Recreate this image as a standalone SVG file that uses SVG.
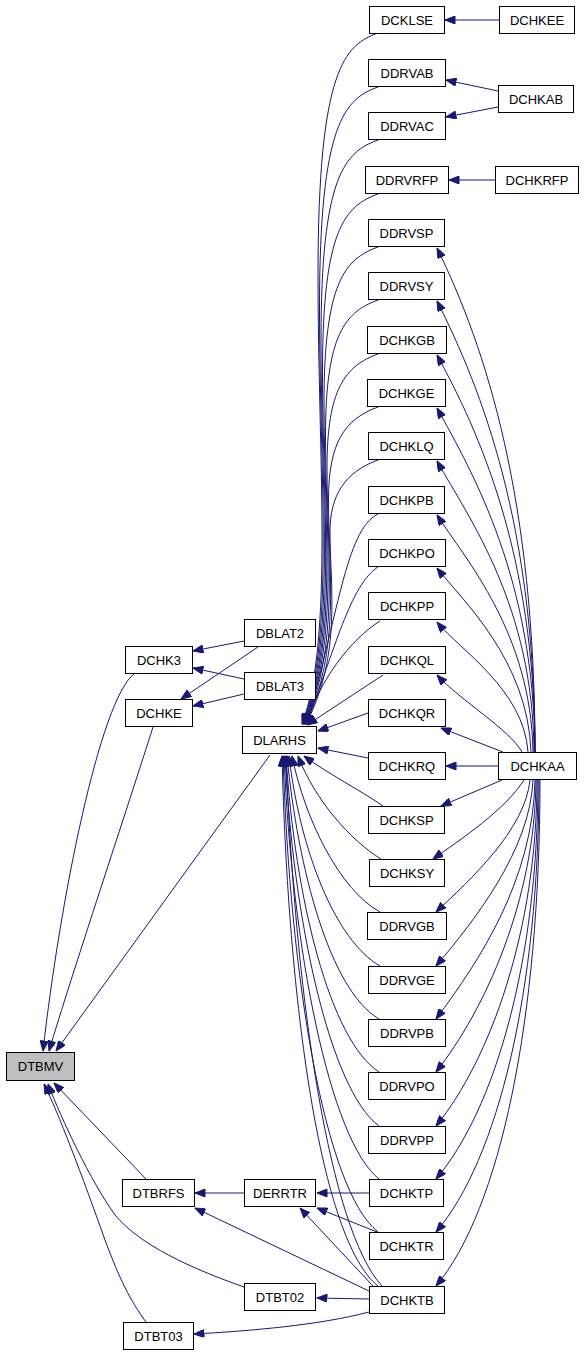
<svg xmlns="http://www.w3.org/2000/svg" width="584" height="1356" viewBox="0 0 584 1356">
<style>
.n rect{fill:#fff;stroke:#000;stroke-width:1}
.n.root rect{fill:#bfbfbf}
.n text{font-family:"Liberation Sans",Arial,sans-serif;font-size:13px;text-anchor:middle;fill:#000}
.e path{fill:none;stroke:#191970;stroke-width:1;marker-end:url(#ah)}
</style>
<defs>
<marker id="ah" viewBox="0 0 10 8" refX="10" refY="4" markerWidth="11" markerHeight="8" markerUnits="userSpaceOnUse" orient="auto">
<path d="M0,0 L10,4 L0,8 z" fill="#191970" stroke="#191970"/>
</marker>
</defs>
<rect width="584" height="1356" fill="#fff"/>
<g class="e" id="edges">
<!-- into DTBMV -->
<path d="M134,674 C100,700 60,900 43,1051"/>
<path d="M153,727 C130,800 70,980 49,1051"/>
<path d="M270,755 L56,1051"/>
<path d="M146,1179 L54,1083"/>
<path d="M244,1287 C190,1268 140,1245 115,1215 C90,1180 62,1120 48,1084"/>
<path d="M146,1322 C130,1300 120,1280 105,1240 C82,1175 58,1112 44,1084"/>
<!-- into DCHK3 / DCHKE -->
<path d="M244,641 L193,651"/>
<path d="M244,679 L193,668"/>
<path d="M258,647 L181,699"/>
<path d="M244,694 L193,706"/>
<!-- right column -->
<path d="M499,20 L445,20"/>
<path d="M498,91 L446,80"/>
<path d="M498,107 L446,117"/>
<path d="M495,180 L449,180"/>
<!-- upper nodes into DLARHS -->
<path d="M378,33 C345,45 318,68 318,276 C318,458 334,640 302,724"/>
<path d="M378,87 C345,99 319.5,122 319.5,308 C319.5,474 335,640 302.5,724"/>
<path d="M378,140 C345,152 321,175 321,340 C321,490 336,640 303,724"/>
<path d="M378,194 C345,206 322.5,229 322.5,372 C322.5,506 337,640 303.5,724"/>
<path d="M378,247 C345,259 324,282 324,404 C324,522 338,640 304,724"/>
<path d="M378,300 C345,312 325.5,335 325.5,436 C325.5,538 339,640 304.5,724"/>
<path d="M378,354 C345,366 327,389 327,468 C327,554 340,645 305,724"/>
<path d="M378,407 C345,419 328.5,442 328.5,500 C328.5,570 341,650 305.5,724"/>
<path d="M378,460 C345,472 330,495 330,532 C330,586 342,655 306,724"/>
<path d="M378,514 C345,530 338,620 306,724"/>
<path d="M378,567 C350,585 335,650 306,724"/>
<path d="M380,621 C350,640 320,680 306,724"/>
<path d="M383,675 L307,725"/>
<path d="M368,713 L318,731"/>
<path d="M368,758 L318,748"/>
<!-- lower nodes into DLARHS -->
<path d="M383,806 C360,790 330,775 304,756"/>
<path d="M381,859 C350,840 315,800 298,756"/>
<path d="M380,912 C340,890 305,820 292,756"/>
<path d="M380,966 C335,940 300,850 289,756"/>
<path d="M379,1019 C330,990 298,870 287,756"/>
<path d="M379,1072 C330,1040 295,900 286,756"/>
<path d="M379,1126 C330,1090 293,920 285,756"/>
<path d="M379,1179 C330,1140 292,950 284,756"/>
<path d="M378,1232 C325,1190 290,980 283,756"/>
<path d="M378,1286 C320,1240 288,1000 282,756"/>
<path d="M382,1286 C330,1230 295,1000 286,756"/>
<!-- DCHKAA to upper nodes -->
<path d="M535,752 C535,499 486,348 437,248"/>
<path d="M535,752 C535,526 482,390 437,301"/>
<path d="M535,752 C535,553 478,430 437,355"/>
<path d="M535,752 C534,580 474,475 437,408"/>
<path d="M534,752 C533,606 470,520 437,461"/>
<path d="M533,752 C531,633 466,560 437,515"/>
<path d="M531,752 C528,660 462,600 437,568"/>
<path d="M528,752 C524,690 460,650 437,622"/>
<path d="M522,752 C510,730 460,700 437,675"/>
<path d="M503,752 L441,728"/>
<path d="M498,766 L446,766"/>
<!-- DCHKAA to lower nodes -->
<path d="M502,780 L441,806"/>
<path d="M524,780 C505,810 460,840 433,859"/>
<path d="M530,780 C525,830 470,880 436,912"/>
<path d="M533,780 C530,850 475,920 436,966"/>
<path d="M535,780 C533,880 480,960 436,1019"/>
<path d="M536,780 C535,900 485,1010 436,1072"/>
<path d="M537,780 C537,930 490,1060 436,1126"/>
<path d="M538,780 C538,960 495,1110 436,1179"/>
<path d="M539,780 C539,990 498,1160 436,1232"/>
<path d="M540,780 C540,1020 500,1210 436,1286"/>
<!-- bottom -->
<path d="M244,1193 L195,1193"/>
<path d="M369,1193 L317,1193"/>
<path d="M377,1232 L317,1208"/>
<path d="M373,1286 L300,1208"/>
<path d="M369,1291 L195,1208"/>
<path d="M369,1299 L317,1298"/>
<path d="M369,1312 C320,1325 250,1331 194,1334"/>
</g>
<g id="DCKLSE" class="n"><rect x="369.5" y="6.5" width="75" height="27"/><text x="407" y="25">DCKLSE</text></g>
<g id="DDRVAB" class="n"><rect x="368.5" y="59.5" width="77" height="27"/><text x="407" y="78">DDRVAB</text></g>
<g id="DDRVAC" class="n"><rect x="368.5" y="112.5" width="77" height="27"/><text x="407" y="131">DDRVAC</text></g>
<g id="DDRVRFP" class="n"><rect x="365.5" y="166.5" width="83" height="27"/><text x="407" y="185">DDRVRFP</text></g>
<g id="DDRVSP" class="n"><rect x="368.5" y="219.5" width="76" height="27"/><text x="406.5" y="238">DDRVSP</text></g>
<g id="DDRVSY" class="n"><rect x="368.5" y="272.5" width="76" height="27"/><text x="406.5" y="291">DDRVSY</text></g>
<g id="DCHKGB" class="n"><rect x="367.5" y="326.5" width="79" height="27"/><text x="407" y="345">DCHKGB</text></g>
<g id="DCHKGE" class="n"><rect x="367.5" y="379.5" width="78" height="27"/><text x="406.5" y="398">DCHKGE</text></g>
<g id="DCHKLQ" class="n"><rect x="368.5" y="432.5" width="76" height="27"/><text x="406.5" y="451">DCHKLQ</text></g>
<g id="DCHKPB" class="n"><rect x="368.5" y="486.5" width="76" height="27"/><text x="406.5" y="505">DCHKPB</text></g>
<g id="DCHKPO" class="n"><rect x="368.5" y="539.5" width="77" height="27"/><text x="407" y="558">DCHKPO</text></g>
<g id="DCHKPP" class="n"><rect x="368.5" y="592.5" width="77" height="27"/><text x="407" y="611">DCHKPP</text></g>
<g id="DCHKQL" class="n"><rect x="368.5" y="646.5" width="77" height="27"/><text x="407" y="665">DCHKQL</text></g>
<g id="DCHKQR" class="n"><rect x="368.5" y="699.5" width="77" height="27"/><text x="407" y="718">DCHKQR</text></g>
<g id="DCHKRQ" class="n"><rect x="368.5" y="752.5" width="77" height="27"/><text x="407" y="771">DCHKRQ</text></g>
<g id="DCHKSP" class="n"><rect x="368.5" y="806.5" width="76" height="27"/><text x="406.5" y="825">DCHKSP</text></g>
<g id="DCHKSY" class="n"><rect x="369.5" y="859.5" width="75" height="27"/><text x="407" y="878">DCHKSY</text></g>
<g id="DDRVGB" class="n"><rect x="367.5" y="912.5" width="79" height="27"/><text x="407" y="931">DDRVGB</text></g>
<g id="DDRVGE" class="n"><rect x="368.5" y="966.5" width="77" height="27"/><text x="407" y="985">DDRVGE</text></g>
<g id="DDRVPB" class="n"><rect x="368.5" y="1019.5" width="77" height="27"/><text x="407" y="1038">DDRVPB</text></g>
<g id="DDRVPO" class="n"><rect x="368.5" y="1072.5" width="77" height="27"/><text x="407" y="1091">DDRVPO</text></g>
<g id="DDRVPP" class="n"><rect x="368.5" y="1126.5" width="77" height="27"/><text x="407" y="1145">DDRVPP</text></g>
<g id="DCHKTP" class="n"><rect x="369.5" y="1179.5" width="74" height="27"/><text x="406.5" y="1198">DCHKTP</text></g>
<g id="DCHKTR" class="n"><rect x="369.5" y="1232.5" width="74" height="27"/><text x="406.5" y="1251">DCHKTR</text></g>
<g id="DCHKTB" class="n"><rect x="369.5" y="1286.5" width="75" height="27"/><text x="407" y="1305">DCHKTB</text></g>
<g id="DCHKEE" class="n"><rect x="499.5" y="6.5" width="75" height="27"/><text x="537" y="25">DCHKEE</text></g>
<g id="DCHKAB" class="n"><rect x="498.5" y="85.5" width="75" height="27"/><text x="536" y="104">DCHKAB</text></g>
<g id="DCHKRFP" class="n"><rect x="495.5" y="166.5" width="83" height="27"/><text x="537" y="185">DCHKRFP</text></g>
<g id="DCHKAA" class="n"><rect x="498.5" y="752.5" width="78" height="27"/><text x="537.5" y="771">DCHKAA</text></g>
<g id="DBLAT2" class="n"><rect x="244.5" y="619.5" width="71" height="27"/><text x="280" y="638">DBLAT2</text></g>
<g id="DBLAT3" class="n"><rect x="244.5" y="672.5" width="71" height="27"/><text x="280" y="691">DBLAT3</text></g>
<g id="DLARHS" class="n"><rect x="242.5" y="726.5" width="74" height="27"/><text x="279.5" y="745">DLARHS</text></g>
<g id="DCHK3" class="n"><rect x="125.5" y="646.5" width="67" height="27"/><text x="159" y="665">DCHK3</text></g>
<g id="DCHKE" class="n"><rect x="125.5" y="699.5" width="67" height="27"/><text x="159" y="718">DCHKE</text></g>
<g id="DTBMV" class="n root"><rect x="6.5" y="1052.5" width="68" height="28"/><text x="40.5" y="1071">DTBMV</text></g>
<g id="DTBRFS" class="n"><rect x="122.5" y="1179.5" width="72" height="27"/><text x="158.5" y="1198">DTBRFS</text></g>
<g id="DERRTR" class="n"><rect x="244.5" y="1179.5" width="71" height="27"/><text x="280" y="1198">DERRTR</text></g>
<g id="DTBT02" class="n"><rect x="244.5" y="1283.5" width="71" height="27"/><text x="280" y="1302">DTBT02</text></g>
<g id="DTBT03" class="n"><rect x="123.5" y="1322.5" width="70" height="27"/><text x="158.5" y="1341">DTBT03</text></g>
</svg>
